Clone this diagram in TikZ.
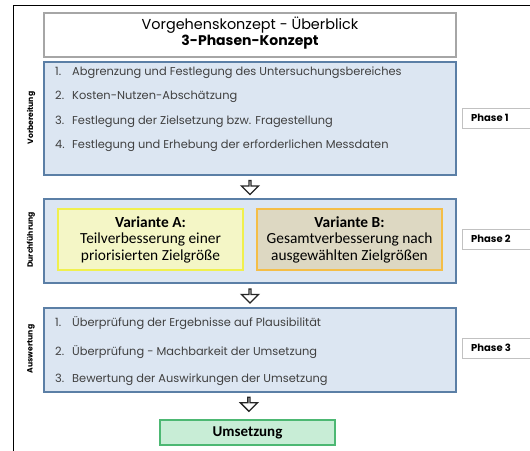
\documentclass[tikz,border=0pt]{standalone}
\usepackage{fontspec}
\setmainfont{Poppins}
\newfontfamily\calfont{Carlito}
\usetikzlibrary{shapes.arrows,calc}

\definecolor{phasefill}{HTML}{DCE6F2}
\definecolor{phaseline}{HTML}{5B7FA6}
\definecolor{titleline}{HTML}{A6A6A6}
\definecolor{afill}{HTML}{F4F6C6}
\definecolor{aline}{HTML}{F0F04E}
\definecolor{bfill}{HTML}{DDD8C2}
\definecolor{bline}{HTML}{F4BE48}
\definecolor{gfill}{HTML}{C8EDD6}
\definecolor{gline}{HTML}{4DB873}
\definecolor{txt}{HTML}{404040}

\newcommand{\itemno}[1]{\makebox[17pt][l]{#1}}

\begin{document}
\begin{tikzpicture}[x=1pt,y=-1pt,
  box/.style={anchor=north west,inner sep=0pt,outer sep=0pt},
  titlebox/.style={box,draw=titleline,line width=1.3pt,fill=white},
  phasebox/.style={box,draw=phaseline,line width=1.6pt,fill=phasefill,minimum width=412pt},
  stepitem/.style={anchor=west,inner sep=0pt,text=txt,font=\fontsize{11.4}{13}\selectfont},
  sidelabel/.style={rotate=90,inner sep=0pt,font=\bfseries\fontsize{7.7}{9}\selectfont},
  variantA/.style={box,draw=aline,line width=1.5pt,fill=afill,minimum width=185pt,minimum height=61pt},
  variantB/.style={box,draw=bline,line width=1.5pt,fill=bfill,minimum width=185pt,minimum height=61pt},
  vtext/.style={align=center,inner sep=0pt,font=\calfont\fontsize{15.4}{16.5}\selectfont},
  phasetag/.style={box,draw=titleline!70,line width=0.8pt,fill=white,minimum width=80pt,minimum height=20pt},
  tagtext/.style={anchor=west,inner sep=0pt,font=\bfseries\fontsize{10}{11}\selectfont},
  downarrow/.style={single arrow,shape border rotate=270,draw=black!85,line width=1.3pt,fill=white,
    minimum height=14pt,minimum width=17pt,single arrow head extend=4.5pt,inner sep=0pt},
  resultbox/.style={box,draw=gline,line width=1.4pt,fill=gfill,minimum width=175pt,minimum height=25pt}
]
\useasboundingbox (0,0) rectangle (530,450);
\clip (0,0) rectangle (530,450);
\fill[white] (0,0) rectangle (530,450);

% frame
\coordinate (frameBL) at (13.5,451);
\coordinate (frameTL) at (13.5,5.5);
\coordinate (frameTR) at (531,5.5);
\draw[line width=1.8pt] (frameBL) -- (frameTL) -- (frameTR);

% heading
\node[titlebox,minimum width=412pt,minimum height=44pt] (title) at (44,13) {};
\node[inner sep=0pt,font=\fontsize{14.4}{16}\selectfont] (title1) at (250,25) {Vorgehenskonzept - Überblick};
\node[inner sep=0pt,font=\bfseries\fontsize{14}{16}\selectfont] (title2) at (250,42.5) {3-Phasen-Konzept};

% phase 1
\node[phasebox,minimum height=113pt] (p1) at (44,62) {};
\node[stepitem] (p1a) at (55,72.5) {\itemno{1.}Abgrenzung und Festlegung des Untersuchungsbereiches};
\node[stepitem] (p1b) at (55,97) {\itemno{2.}Kosten-Nutzen-Abschätzung};
\node[stepitem] (p1c) at (55,121.5) {\itemno{3.}Festlegung der Zielsetzung bzw. Fragestellung};
\node[stepitem] (p1d) at (55,146) {\itemno{4.}Festlegung und Erhebung der erforderlichen Messdaten};
\node[sidelabel] (l1) at (31,118) {Vorbereitung};

% phase 2
\node[phasebox,minimum height=84pt] (p2) at (44,199) {};
\node[variantA] (va) at (58,209) {};
\node[variantB] (vb) at (257,209) {};
\node[vtext] (vat) at (va.center) {\bfseries Variante A:\\Teilverbesserung einer\\priorisierten Zielgröße};
\node[vtext] (vbt) at (vb.center) {\bfseries Variante B:\\Gesamtverbesserung nach\\ausgewählten Zielgrößen};
\node[sidelabel] (l2) at (31,240) {Durchführung};

% phase 3
\node[phasebox,minimum height=84pt] (p3) at (44,308) {};
\node[stepitem] (p3a) at (55,323) {\itemno{1.}Überprüfung der Ergebnisse auf Plausibilität};
\node[stepitem] (p3b) at (55,352) {\itemno{2.}Überprüfung - Machbarkeit der Umsetzung};
\node[stepitem] (p3c) at (55,380) {\itemno{3.}Bewertung der Auswirkungen der Umsetzung};
\node[sidelabel] (l3) at (31,349) {Auswertung};

% result
\node[resultbox] (um) at (160,420) {};
\node[inner sep=0pt,font=\calfont\bfseries\fontsize{15}{17}\selectfont] (umt) at (um.center) {Umsetzung};

% flow arrows
\node[downarrow] (a1) at ($(p1.south)!0.5!(p2.north)$) {};
\node[downarrow] (a2) at ($(p2.south)!0.5!(p3.north)$) {};
\node[downarrow] (a3) at ($(p3.south)!0.42!(um.north)$) {};

% phase tags
\node[phasetag] (t1) at (462,108) {};
\node[tagtext] (t1t) at (471,118) {Phase 1};
\node[phasetag] (t2) at (462,229) {};
\node[tagtext] (t2t) at (471,239) {Phase 2};
\node[phasetag] (t3) at (462,338) {};
\node[tagtext] (t3t) at (471,348) {Phase 3};
\end{tikzpicture}
\end{document}
